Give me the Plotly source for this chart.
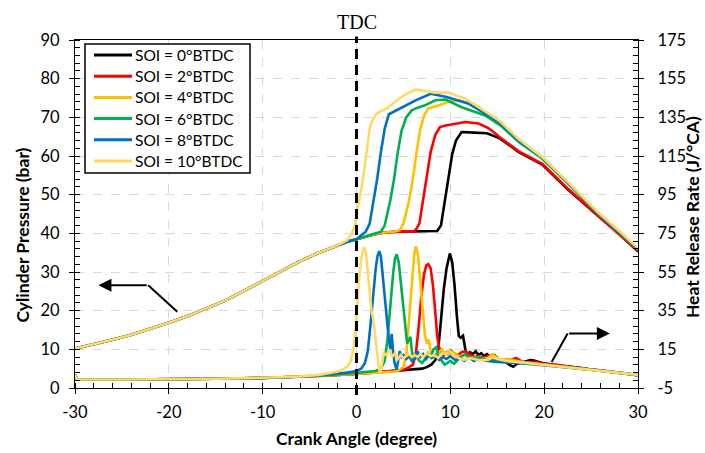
import plotly.graph_objects as go

# ---------------- data ----------------
labels = ["SOI = 0°BTDC", "SOI = 2°BTDC", "SOI = 4°BTDC",
          "SOI = 6°BTDC", "SOI = 8°BTDC", "SOI = 10°BTDC"]
colors = ["#000000", "#FF0000", "#FFC000", "#00B050", "#0070C0", "#FFD966"]

# tick labels (plain hyphen minus)
x_ticks = [-30, -20, -10, 0, 10, 20, 30]
x_ticktext = ["-30", "-20", "-10", "0", "10", "20", "30"]
y_ticks = [0, 10, 20, 30, 40, 50, 60, 70, 80, 90]
y2_ticks = [-5, 15, 35, 55, 75, 95, 115, 135, 155, 175]
y2_ticktext = ["-5", "15", "35", "55", "75", "95", "115", "135", "155", "175"]

# shared compression stroke (bar)
comp_ca = [-30, -28, -26, -24, -22, -20, -18, -16, -14, -12, -10, -8, -6, -4, -2, -1, 0,
           1, 2, 3, 4, 5, 6, 7, 8]
comp_p = [10.2, 11.3, 12.5, 13.8, 15.3, 16.9, 18.6, 20.5, 22.6, 25.1, 27.7, 30.3, 32.8, 35.0, 36.9, 37.8, 38.5,
          39.2, 39.8, 40.2, 40.4, 40.5, 40.5, 40.5, 40.6]

# combustion-phase pressure (bar) for each SOI
p0_ca = [8.6, 9.0, 9.4, 9.8, 10.2, 10.6, 11.2, 12.0, 13.0, 13.9, 14.8, 15.3, 16.3, 17.3, 19.8, 22.5, 25.7, 28, 30]
p0 = [40.6, 42.0, 48.5, 55.0, 60.5, 64.0, 66.2, 66.1, 66.0, 65.9, 65.0, 64.5, 62.8, 61.0, 57.8, 51.4, 44.6, 39.8, 35.3]

p2_ca = [6.3, 6.7, 7.1, 7.5, 7.9, 8.4, 8.9, 9.5, 10.5, 11.6, 13.0, 14.0, 14.8, 15.3, 17.3, 19.8, 22.5, 25.7, 28, 30]
p2 = [40.8, 42.5, 48.5, 55.0, 61.0, 65.5, 67.5, 67.9, 68.3, 68.8, 68.4, 67.3, 65.8, 64.8, 61.2, 58.0, 51.6, 44.7, 39.9, 35.4]

p4_ca = [4.6, 5.0, 5.6, 6.0, 6.4, 6.8, 7.2, 7.65, 8.8, 9.8, 10.9, 12.0, 13.0, 15.3, 17.3, 19.8, 22.5, 25.7, 28, 30]
p4 = [40.8, 42.5, 48.5, 54.0, 61.0, 67.0, 70.5, 72.3, 73.1, 74.0, 74.4, 73.5, 72.7, 68.3, 64.0, 59.5, 53.1, 45.3, 40.4, 35.9]

p6_ca = [2.6, 3.0, 3.6, 4.0, 4.4, 4.8, 5.3, 5.88, 6.5, 7.3, 8.4, 9.5, 11.2, 12.5, 13.7, 15.3, 17.3, 19.8, 22.5, 25.7, 28, 30]
p6 = [40.4, 42.0, 48.5, 54.0, 61.0, 66.5, 70.0, 71.8, 72.5, 73.1, 74.4, 74.6, 72.6, 71.5, 70.5, 68.0, 63.6, 59.3, 53.0, 45.2, 40.3, 35.8]

p8_ca = [0.5, 1.0, 1.4, 1.86, 2.2, 2.6, 3.0, 3.45, 4.2, 5.0, 6.3, 7.9, 9.5, 11.9, 13.5, 15.3, 17.3, 19.8, 22.5, 25.7, 28, 30]
p8 = [39.6, 40.5, 42.5, 48.5, 54.0, 61.0, 67.0, 70.8, 71.8, 72.8, 74.4, 76.1, 75.3, 73.6, 71.3, 68.6, 64.0, 59.6, 53.1, 45.3, 40.4, 35.9]

p10_ca = [-1, -0.5, -0.2, 0, 0.3, 0.55, 0.8, 1.1, 1.44, 1.8, 2.15, 2.8, 3.45, 4.5, 5.5, 6.3, 7.3, 8.4, 9.8, 11.6,
          13.3, 15.3, 17.3, 19.8, 22.5, 25.7, 28, 30]
p10 = [38.2, 39.9, 42.0, 44.5, 48.0, 52.0, 56.0, 62.0, 67.5, 69.8, 71.0, 71.8, 72.6, 74.8, 76.3, 77.2, 76.8, 76.4, 76.4, 74.8,
       72.2, 69.0, 64.3, 59.7, 53.3, 45.5, 40.6, 36.1]

# heat release rate (J/°CA) for each SOI
h0_ca = [-30, -29.8, -25, -20, -15, -10, -6, -3, 0, 2, 4, 6, 7, 7.5, 8, 8.4, 8.7, 9.0, 9.3, 9.6, 9.95, 10.2, 10.45,
         10.7, 10.9, 11.1, 11.35, 11.6, 11.8, 12.1, 12.4, 12.7, 13.0, 13.3, 13.6, 13.9, 14.3, 14.7, 15.1, 15.5,
         15.9, 16.3, 16.7, 17.1, 17.5, 18.0, 18.5, 18.8, 19.3, 19.9, 21, 22, 23, 24, 25, 26, 27, 28, 29, 30]
h0 = [2.0, -0.6, -0.6, -0.5, -0.2, 0.2, 0.8, 1.5, 2.3, 3.0, 3.6, 4.3, 5.0, 5.8, 7.2, 9.5, 14.5, 30, 46, 57, 64.6, 60, 48,
      32, 22, 21, 22, 15, 12, 13.5, 12.5, 14, 12, 13, 11.5, 12.5, 11, 12, 10, 9.5,
      8.5, 7, 6, 7.5, 8, 8.5, 9.5, 9.3, 8.5, 7.8, 7.0, 6.5, 6.0, 5.3, 4.6, 4.1, 3.5, 3.0, 2.3, 1.6]

h2_ca = [-30, -29.8, -25, -20, -15, -10, -6, -3, 0, 2, 4, 5, 5.5, 6.0, 6.3, 6.6, 6.9, 7.2, 7.45, 7.65, 7.9, 8.15, 8.4,
         8.6, 8.8, 9.0, 9.3, 9.6, 10.0, 10.4, 10.8, 11.2, 11.6, 12.0, 12.5, 13.0, 13.5, 14.0, 14.4, 14.8, 15.5,
         16.0, 16.5, 17.0, 17.5, 18, 19, 20, 21, 22, 23, 24, 25, 26, 27, 28, 29, 30]
h2 = [2.0, -0.6, -0.6, -0.5, -0.2, 0.2, 0.8, 1.5, 2.3, 3.0, 3.6, 4.3, 5.5, 7, 12, 25, 42, 54, 58.5, 59, 57, 48, 34,
      22, 16, 14, 12, 13.5, 14.5, 13, 12, 13.5, 14, 12.5, 11, 11.5, 10.5, 11.5, 12, 10, 9,
      10, 9.5, 10.5, 9, 8, 8.5, 7.5, 7.2, 6.5, 5.8, 5.2, 4.6, 4.2, 3.5, 3.0, 2.4, 1.7]

h4_ca = [-30, -29.8, -25, -20, -15, -10, -6, -3, 0, 2, 4, 4.5, 5.0, 5.3, 5.6, 5.9, 6.15, 6.33, 6.55, 6.8, 7.05, 7.3,
         7.5, 7.7, 7.9, 8.2, 8.5, 8.8, 9.1, 9.4, 9.8, 10.2, 10.6, 11.0, 11.5, 12.0, 12.5, 13.0, 13.5, 14.0, 14.5,
         15.0, 15.5, 16, 17, 18, 19, 20, 21, 22, 23, 24, 25, 26, 27, 28, 29, 30]
h4 = [2.0, -0.6, -0.6, -0.5, -0.2, 0.2, 0.8, 1.5, 2.3, 3.0, 3.5, 4.2, 6, 12, 30, 50, 64, 68.3, 64, 50, 34, 22,
      18, 20, 14, 11, 12.5, 14, 15, 13, 12, 13.5, 12.5, 11, 12, 11, 10.5, 11, 10, 10.5, 12.5,
      10.5, 9.5, 10, 9, 8.2, 7.6, 7.0, 6.5, 6.0, 5.4, 4.9, 4.4, 3.9, 3.4, 2.9, 2.3, 1.6]

h6_ca = [-30, -29.8, -25, -20, -15, -10, -6, -3, 0, 1, 2.0, 2.6, 3.0, 3.3, 3.6, 3.9, 4.1, 4.28, 4.5, 4.75, 5.0, 5.2,
         5.4, 5.6, 5.75, 5.9, 6.1, 6.4, 6.7, 7.0, 7.3, 7.6, 7.9, 8.2, 8.5, 8.8, 9.1, 9.4, 9.7, 10.0, 10.4, 10.8,
         11.2, 11.6, 12.0, 12.5, 13.0, 13.5, 14.0, 14.5, 15, 16, 17, 18, 19, 20, 21, 22, 23, 24, 25, 26, 27, 28,
         29, 30]
h6 = [2.0, -0.6, -0.6, -0.5, -0.2, 0.2, 0.8, 1.6, 2.8, 3.2, 3.8, 5, 9, 20, 38, 54, 62, 64.2, 60, 48, 34, 24,
      18, 20, 21.5, 14, 10, 11, 9, 8, 10, 13, 11, 15, 16, 11, 9, 7, 8, 9, 7.5, 9.5,
      11.5, 12.5, 11, 10, 11, 10, 9, 9.5, 9, 8.8, 8.5, 8, 7.5, 7, 6.5, 6, 5.4, 4.9, 4.4, 3.9, 3.4, 2.9,
      2.3, 1.6]

h8_ca = [-30, -29.8, -25, -20, -15, -10, -6, -4, -2, -1, 0, 0.5, 0.9, 1.2, 1.5, 1.8, 2.05, 2.25, 2.43, 2.6, 2.8,
         3.03, 3.25, 3.45, 3.6, 3.75, 3.9, 4.05, 4.28, 4.45, 4.6, 4.8, 5.0, 5.3, 5.6, 5.9, 6.2, 6.5, 6.8, 7.1,
         7.4, 7.7, 8.0, 8.4, 8.8, 9.2, 9.6, 10.0, 10.5, 11, 11.5, 12, 12.5, 13, 14, 15, 16, 17, 18, 19, 20,
         21, 22, 23, 24, 25, 26, 27, 28, 29, 30]
h8 = [2.0, -0.6, -0.6, -0.5, -0.2, 0.2, 0.8, 1.5, 2.3, 3.0, 3.8, 5, 8, 14, 28, 45, 57, 63.5, 65.8, 63, 52,
      38.8, 30, 20, 15, 23, 14, 8, 4.5, 9, 14, 11, 12, 10, 11.5, 9, 10, 14, 11, 12.5,
      10, 12, 10.5, 12, 9.5, 11, 10, 11.5, 9.5, 10.5, 9, 11, 9, 10, 9, 8.5, 8.3, 8, 7.6, 7.2, 6.8,
      6.4, 5.9, 5.4, 4.9, 4.4, 3.9, 3.4, 2.9, 2.3, 1.6]

h10_ca = [-30, -29.8, -25, -20, -15, -10, -6, -4, -3, -2, -1.5, -1, -0.6, -0.3, 0.0, 0.25, 0.5, 0.8, 1.0, 1.2, 1.4,
          1.6, 1.8, 2.0, 2.2, 2.4, 2.55, 2.7, 2.9, 3.2, 3.5, 3.8, 4.1, 4.4, 4.7, 5.0, 5.3, 5.6, 5.9, 6.2, 6.5,
          6.8, 7.1, 7.5, 7.9, 8.3, 8.7, 9.1, 9.5, 9.9, 10.3, 10.7, 11.1, 11.5, 12, 12.5, 13, 14, 14.5, 15, 16,
          17, 18, 19, 20, 21, 22, 23, 24, 25, 26, 27, 28, 29, 30]
h10 = [2.0, -0.6, -0.6, -0.5, -0.2, 0.3, 1.0, 1.8, 2.5, 3.5, 4.5, 6, 9, 16, 32, 50, 62, 68, 65, 55, 44,
       35, 30, 21, 13, 5, 2.5, 8, 13, 12, 15, 11, 13, 10, 12, 10.5, 11.5, 12.5, 11, 12, 11,
       12.5, 11, 13, 11.5, 12, 10.5, 13, 12.5, 14.5, 12, 11, 10, 9.5, 10.5, 10, 9.5, 9.5, 11, 10, 9,
       8.5, 8, 7.5, 7, 6.4, 5.9, 5.4, 4.9, 4.4, 3.9, 3.4, 2.9, 2.4, 1.8]

pressure_sets = [(p0_ca, p0), (p2_ca, p2), (p4_ca, p4), (p6_ca, p6), (p8_ca, p8), (p10_ca, p10)]
hrr_sets = [(h0_ca, h0), (h2_ca, h2), (h4_ca, h4), (h6_ca, h6), (h8_ca, h8), (h10_ca, h10)]

# annotation arrows: (tail, corner, head) in crank angle / pressure units
arrow_left = [(-19.1, 19.7), (-22.2, 26.6), (-27.5, 26.6)]
arrow_right = [(20.8, 6.7), (22.5, 14.1), (27.0, 14.1)]

FONT = "Lato"

# plot-area geometry in pixels (used for the legend box)
W, H = 705, 453
ML, MR, MT, MB = 75, 67, 40, 65
PW, PH = W - ML - MR, H - MT - MB


def px_to_paper(px, py):
    return (px - ML) / PW, (H - MB - py) / PH


fig = go.Figure()

# cylinder pressure traces (left axis)
for name, col, (ca, p) in zip(labels, colors, pressure_sets):
    start = ca[0]
    xs = [c for c in comp_ca if c < start] + list(ca)
    ys = [v for c, v in zip(comp_ca, comp_p) if c < start] + list(p)
    fig.add_trace(go.Scatter(x=xs, y=ys, mode="lines", name=name,
                             line=dict(color=col, width=2.6), xaxis="x", yaxis="y"))

# heat release rate traces (right axis)
for name, col, (ca, h) in zip(labels, colors, hrr_sets):
    fig.add_trace(go.Scatter(x=ca, y=h, mode="lines", name=name,
                             line=dict(color=col, width=2.6), xaxis="x", yaxis="y2"))

# helper traces so the inner tick overlays get drawn
fig.add_trace(go.Scatter(x=[None], y=[None], xaxis="x3", yaxis="y3", hoverinfo="skip"))
fig.add_trace(go.Scatter(x=[None], y=[None], xaxis="x3", yaxis="y4", hoverinfo="skip"))

tickfont = dict(family=FONT, size=16.5, color="black")
grid = dict(showgrid=True, gridcolor="#d9d9d9", gridwidth=1, griddash="dash")

fig.update_layout(
    width=W, height=H,
    margin=dict(l=ML, r=MR, t=MT, b=MB),
    paper_bgcolor="white", plot_bgcolor="white",
    font=dict(family=FONT, color="black"),
    showlegend=False,
    xaxis=dict(range=[-30, 30], tickmode="array", tickvals=x_ticks, ticktext=x_ticktext,
               ticks="outside", ticklen=5, tickwidth=1.3,
               tickcolor="black", showline=True, linecolor="black", linewidth=1.3, mirror=True,
               zeroline=False, tickfont=tickfont, ticklabelstandoff=4,
               minor=dict(ticks="inside", ticklen=5, dtick=2, tick0=-30, tickcolor="black", tickwidth=1,
                          showgrid=False),
               **grid),
    xaxis3=dict(overlaying="x", anchor="y", side="bottom", range=[-30, 30], tick0=-30, dtick=10,
                ticks="inside", ticklen=5, tickwidth=1.3, tickcolor="black", showticklabels=False,
                showgrid=False, showline=False, zeroline=False),
    yaxis=dict(range=[0, 90], tickmode="array", tickvals=y_ticks, ticks="outside", ticklen=5, tickwidth=1.3,
               tickcolor="black", showline=True, linecolor="black", linewidth=1.3,
               zeroline=False, tickfont=tickfont, ticklabelstandoff=6,
               minor=dict(ticks="inside", ticklen=5, dtick=2, tick0=0, tickcolor="black", tickwidth=1,
                          showgrid=False),
               **grid),
    yaxis2=dict(range=[-5, 175], tickmode="array", tickvals=y2_ticks, ticktext=y2_ticktext,
                overlaying="y", side="right", anchor="x",
                ticks="outside", ticklen=5, tickwidth=1.3, tickcolor="black", showline=True,
                linecolor="black", linewidth=1.3, zeroline=False, showgrid=False, tickfont=tickfont,
                ticklabelstandoff=10,
                minor=dict(ticks="inside", ticklen=5, dtick=4, tick0=-5, tickcolor="black", tickwidth=1,
                           showgrid=False)),
    yaxis3=dict(range=[0, 90], tick0=0, dtick=10, overlaying="y", side="left", anchor="x3",
                ticks="inside", ticklen=5, tickwidth=1.3, tickcolor="black", showticklabels=False,
                showgrid=False, showline=False, zeroline=False),
    yaxis4=dict(range=[-5, 175], tick0=-5, dtick=20, overlaying="y", side="right", anchor="x3",
                ticks="inside", ticklen=5, tickwidth=1.3, tickcolor="black", showticklabels=False,
                showgrid=False, showline=False, zeroline=False),
)

# TDC marker line
fig.add_shape(type="line", xref="x", yref="paper", x0=0, x1=0, y0=-0.02, y1=1.01,
              line=dict(color="black", width=3, dash="10px,6px"), layer="above")
fig.add_annotation(x=0, y=1.0, xref="x", yref="paper", yshift=18, text="TDC", showarrow=False,
                   font=dict(family="Liberation Serif", size=20, color="black"), yanchor="middle")

# legend box drawn by hand (boxed, six entries)
bx0, by0 = px_to_paper(85, 173)
bx1, by1 = px_to_paper(250, 44)
fig.add_shape(type="rect", xref="paper", yref="paper", x0=bx0, y0=by0, x1=bx1, y1=by1,
              line=dict(color="black", width=1.5), fillcolor="white", layer="above")
for i, (name, col) in enumerate(zip(labels, colors)):
    cy = 55 + i * 21.2
    lx0, ly = px_to_paper(94, cy)
    lx1, _ = px_to_paper(132, cy)
    tx, _ = px_to_paper(133, cy)
    fig.add_shape(type="line", xref="paper", yref="paper", x0=lx0, x1=lx1, y0=ly, y1=ly,
                  line=dict(color=col, width=3), layer="above")
    fig.add_annotation(x=tx, y=ly, xref="paper", yref="paper", text=name, showarrow=False,
                       xanchor="left", yanchor="middle",
                       font=dict(family=FONT, size=15.5, color="black"))

# axis titles
title_font = dict(family=FONT, size=17.5, color="black", weight="bold")
fig.add_annotation(x=0.5, y=-0.145, xref="paper", yref="paper", text="<b>Crank Angle (degree)</b>",
                   showarrow=False, font=title_font, yanchor="middle")
fig.add_annotation(x=-0.093, y=0.44, xref="paper", yref="paper", text="<b>Cylinder Pressure (bar)</b>",
                   showarrow=False, textangle=-90, font=title_font, xanchor="center")
fig.add_annotation(x=1.097, y=0.49, xref="paper", yref="paper", text="<b>Heat Release Rate (J/°CA)</b>",
                   showarrow=False, textangle=-90, font=title_font, xanchor="center")

# pointer arrows showing which axis each curve family uses
for pts in (arrow_left, arrow_right):
    (x0, y0), (x1, y1), (x2, y2) = pts
    fig.add_shape(type="line", xref="x", yref="y", x0=x0, y0=y0, x1=x1, y1=y1,
                  line=dict(color="black", width=2))
    fig.add_annotation(x=x2, y=y2, ax=x1, ay=y1, xref="x", yref="y", axref="x", ayref="y",
                       showarrow=True, arrowhead=2, arrowsize=1.3, arrowwidth=2, arrowcolor="black", text="")

fig.write_html("out.html")
